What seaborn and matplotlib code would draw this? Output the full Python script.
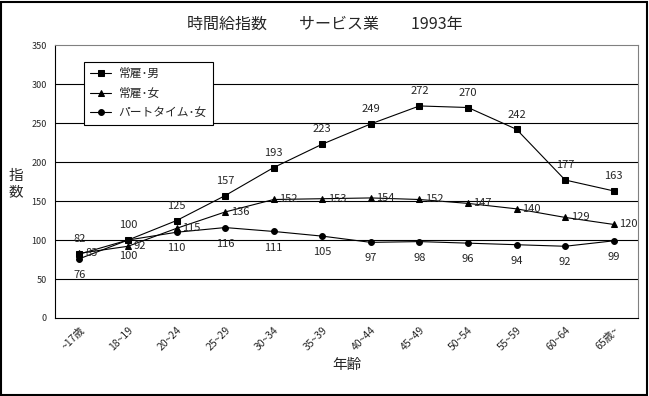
import matplotlib
matplotlib.use('Agg')
import matplotlib.pyplot as plt
import matplotlib.patches as mpatches
import pandas as pd
import seaborn as sns

ages = ['~17歳', '18~19', '20~24', '25~29', '30~34', '35~39',
        '40~44', '45~49', '50~54', '55~59', '60~64', '65歳~']
male_regular = [82, 100, 125, 157, 193, 223, 249, 272, 270, 242, 177, 163]
female_regular = [83, 92, 115, 136, 152, 153, 154, 152, 147, 140, 129, 120]
female_part = [76, 100, 110, 116, 111, 105, 97, 98, 96, 94, 92, 99]
series_names = ['常雇･男', '常雇･女', 'パートタイム･女']

sns.set_style('white')
plt.rcParams['font.family'] = ['Noto Sans CJK JP', 'DejaVu Sans']

rows = []
for name, vals in zip(series_names, [male_regular, female_regular, female_part]):
    for i, v in enumerate(vals):
        rows.append({'pos': i, 'value': v, 'series': name})
df = pd.DataFrame(rows)

fig = plt.figure(figsize=(6.49, 3.96), dpi=100)
ax = fig.add_axes([0.085, 0.197, 0.898, 0.689])

markers = {'常雇･男': 's', '常雇･女': '^', 'パートタイム･女': 'o'}
sns.lineplot(data=df, x='pos', y='value', hue='series', style='series',
             markers=markers, dashes=False, palette=['black'] * 3,
             linewidth=0.8, markersize=4.2, markeredgecolor='black', ax=ax)

# data labels: male above, female right, part below
for i, v in enumerate(male_regular):
    ax.annotate(str(v), (i, v), xytext=(0, 7), textcoords='offset points',
                ha='center', va='bottom', fontsize=8)
for i, v in enumerate(female_regular):
    ax.annotate(str(v), (i, v), xytext=(4, 0), textcoords='offset points',
                ha='left', va='center', fontsize=8)
for i, v in enumerate(female_part):
    ax.annotate(str(v), (i, v), xytext=(0, -8), textcoords='offset points',
                ha='center', va='top', fontsize=8)

ax.set_xlim(-0.5, len(ages) - 0.5)
ax.set_ylim(0, 350)
ax.set_yticks(range(0, 351, 50))
ax.tick_params(axis='y', labelsize=6.5, length=0, pad=6)
ax.set_xticks(range(len(ages)))
ax.set_xticklabels(ages, rotation=45, ha='right', rotation_mode='anchor', fontsize=7.5)
ax.tick_params(axis='x', length=0, pad=5)
ax.set_xticks([i + 0.5 for i in range(len(ages) - 1)], minor=True)
ax.tick_params(axis='x', which='minor', direction='in', length=3, color='black')

for y in range(50, 301, 50):
    ax.axhline(y, color='black', linewidth=0.8, zorder=0)

ax.spines['left'].set_color('black')
ax.spines['bottom'].set_color('black')
ax.spines['top'].set_color('gray')
ax.spines['right'].set_color('gray')
for s in ax.spines.values():
    s.set_linewidth(0.8)

ax.set_xlabel('年齢', fontsize=10.5)
ax.set_ylabel('指\n数', fontsize=10.5, rotation=0, va='center')
ax.yaxis.set_label_coords(-0.068, 0.49)
fig.suptitle('時間給指数　　サービス業　　1993年', fontsize=11.5, y=0.96)

leg = ax.legend(loc='upper left', bbox_to_anchor=(0.05, 0.94), fontsize=8.5,
                frameon=True, fancybox=False, edgecolor='black',
                handlelength=1.8, borderpad=0.5, labelspacing=0.55,
                handletextpad=0.6, borderaxespad=0)
leg.get_frame().set_linewidth(0.8)
leg.get_frame().set_alpha(1)

fig.add_artist(mpatches.Rectangle((0.002, 0.003), 0.995, 0.993, transform=fig.transFigure,
                                  fill=False, edgecolor='black', linewidth=1.5))

fig.savefig('out.png', dpi=100)
